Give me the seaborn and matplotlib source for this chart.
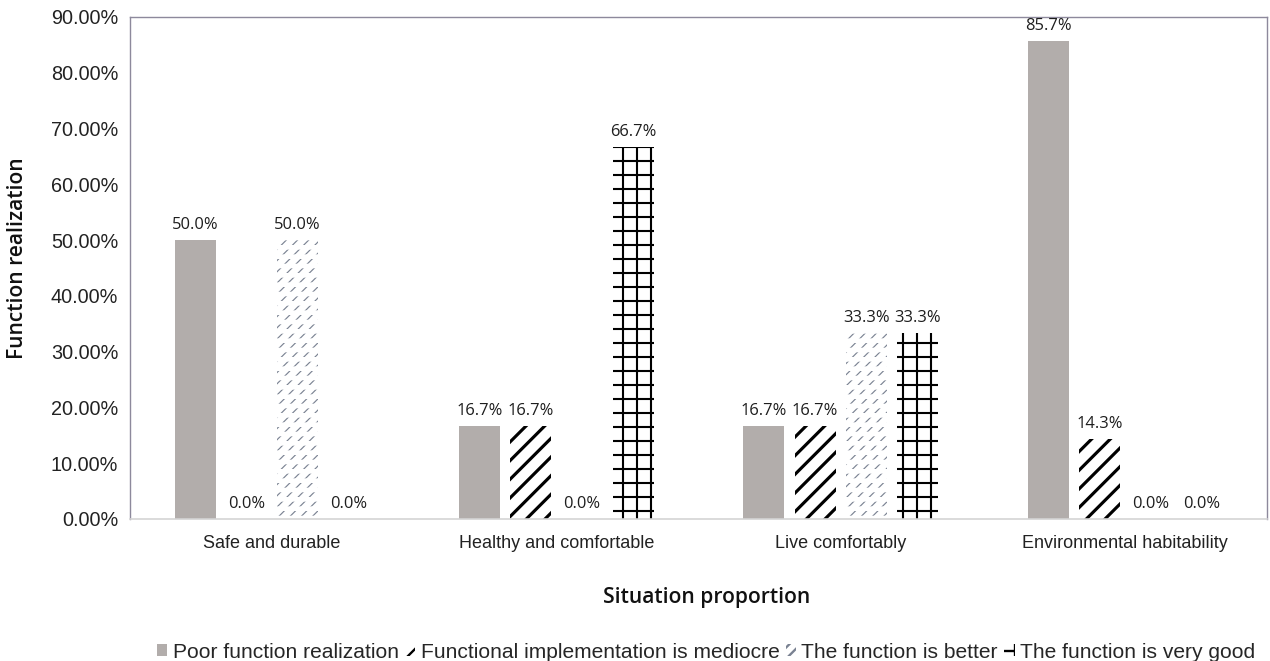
import matplotlib
matplotlib.use("Agg")
import matplotlib.pyplot as plt
import matplotlib.ticker as mticker
import seaborn as sns
import pandas as pd

# ---- data -------------------------------------------------------------
categories = ["Safe and durable", "Healthy and comfortable",
              "Live comfortably", "Environmental habitability"]
levels = ["Poor function realization",
          "Functional implementation is mediocre",
          "The function is better",
          "The function is very good"]
poor = [50.0, 16.7, 16.7, 85.7]
mediocre = [0.0, 16.7, 16.7, 14.3]
better = [50.0, 0.0, 33.3, 0.0]
very_good = [0.0, 66.7, 33.3, 0.0]
y_ticks = [0, 10, 20, 30, 40, 50, 60, 70, 80, 90]

series = [poor, mediocre, better, very_good]
df = pd.DataFrame({
    "category": [c for _ in levels for c in categories],
    "level": [lv for lv in levels for _ in categories],
    "value": [v for s in series for v in s],
})

# ---- style ------------------------------------------------------------
sns.set_theme(style="white")
DPI = 168
fig = plt.figure(figsize=(1270 / DPI, 661 / DPI), dpi=DPI)
ax = fig.add_axes([130 / 1270, 1 - 519 / 661, 1137 / 1270, 502 / 661])

gray = "#b2adab"
palette = {levels[0]: gray, levels[1]: "white", levels[2]: "white", levels[3]: "white"}

sns.barplot(data=df, x="category", y="value", hue="level", order=categories,
            hue_order=levels, palette=palette, saturation=1, width=0.72, gap=0.2,
            legend=False, ax=ax, errorbar=None)

# hatch styles for each level: (hatch, colour, hatch linewidth in pt)
styles = [
    (None, gray, 0),
    ("///", "black", 1.35),
    ("/////", "#7a8292", 0.5),
    ("++", "black", 0.9),
]


def set_hlw(patch, lw):
    if hasattr(patch, "set_hatch_linewidth"):
        patch.set_hatch_linewidth(lw)
    else:
        patch._hatch_linewidth = lw


for cont, (hatch, col, hlw) in zip(ax.containers, styles):
    for p in cont:
        p.set_linewidth(0)
        if hatch:
            p.set_facecolor("white")
            p.set_edgecolor(col)
            p.set_hatch(hatch)
            set_hlw(p, hlw)

# break the fine diagonals of "better" into short dashes
for p in ax.containers[2]:
    if p.get_height() > 0:
        ov = ax.bar(p.get_x() + p.get_width() / 2, p.get_height(), width=p.get_width(),
                    facecolor="none", edgecolor="white", linewidth=0, hatch="---")
        set_hlw(ov[0], 2.0)

# value labels
for cont, vals in zip(ax.containers[:4], series):
    ax.bar_label(cont, labels=[f"{v:.1f}%" for v in vals], padding=3,
                 fontsize=7.1, family="Open Sans", color="#1e1e1e")

# ---- axes -------------------------------------------------------------
ax.set_ylim(0, 90)
ax.set_xlim(-0.5, 3.5)
ax.set_yticks(y_ticks)
ax.yaxis.set_major_formatter(mticker.FuncFormatter(lambda v, _: f"{v:.2f}%"))
ax.tick_params(axis="both", length=0, labelcolor="#222222")
ax.tick_params(axis="y", pad=5.0, labelsize=8.5)
ax.tick_params(axis="x", pad=7, labelsize=7.7)
for lab in ax.get_xticklabels() + ax.get_yticklabels():
    lab.set_family("Liberation Sans")

for side in ["left", "top", "right"]:
    ax.spines[side].set_color("#8d899c")
    ax.spines[side].set_linewidth(0.6)
ax.spines["bottom"].set_color("#d4d4d4")
ax.spines["bottom"].set_linewidth(0.7)

ax.set_xlabel("Situation proportion", fontsize=9.0, family="Open Sans",
              fontweight="semibold", color="#111111")
ax.set_ylabel("Function realization", fontsize=9.0, family="Open Sans",
              fontweight="semibold", color="#111111")
ax.xaxis.set_label_coords(0.5 + (706 - 698) / 1137, -0.135)
ax.yaxis.set_label_coords(-0.0897, 0.52)

handles = [cont[min(range(4), key=lambda i: -series[k][i])] for k, cont in enumerate(ax.containers[:4])]
fig.legend(handles, levels, loc="center", bbox_to_anchor=(706 / 1270, 1 - 652 / 661),
           ncol=4, frameon=False, handlelength=0.5, handleheight=0.55,
           handletextpad=0.25, columnspacing=0.3, borderaxespad=0, borderpad=0,
           prop={"family": "Liberation Sans", "size": 9.0})

fig.savefig("out.png", dpi=DPI)
